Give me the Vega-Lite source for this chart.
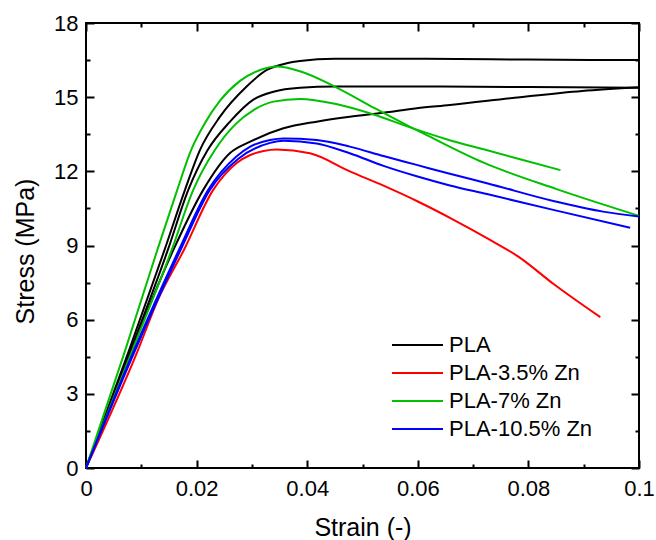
{
  "$schema": "https://vega.github.io/schema/vega-lite/v6.json",
  "width": 553,
  "height": 445,
  "autosize": {"type": "none"},
  "padding": {"left": 86, "top": 23, "right": 17, "bottom": 72},
  "background": "white",
  "config": {
    "font": "Liberation Sans",
    "view": {"stroke": "black", "strokeWidth": 2},
    "axis": {
      "grid": false,
      "domain": false,
      "ticks": false,
      "labelFontSize": 22,
      "labelColor": "black",
      "labelOverlap": false,
      "labelFlush": false,
      "titleFontSize": 25,
      "titleFontWeight": "normal",
      "titleColor": "black",
      "gridColor": "black",
      "gridWidth": 2,
      "gridOpacity": 1
    }
  },
  "datasets": {
    "curves": [
      {"series": "PLA", "sample": "A", "strain": 0, "stress": 0},
      {"series": "PLA", "sample": "A", "strain": 0.0078, "stress": 4.77},
      {"series": "PLA", "sample": "A", "strain": 0.0142, "stress": 8.82},
      {"series": "PLA", "sample": "A", "strain": 0.0179, "stress": 11.25},
      {"series": "PLA", "sample": "A", "strain": 0.0206, "stress": 12.86},
      {"series": "PLA", "sample": "A", "strain": 0.0242, "stress": 14.2},
      {"series": "PLA", "sample": "A", "strain": 0.029, "stress": 15.42},
      {"series": "PLA", "sample": "A", "strain": 0.0327, "stress": 16.1},
      {"series": "PLA", "sample": "A", "strain": 0.0363, "stress": 16.37},
      {"series": "PLA", "sample": "A", "strain": 0.0387, "stress": 16.46},
      {"series": "PLA", "sample": "A", "strain": 0.045, "stress": 16.55},
      {"series": "PLA", "sample": "A", "strain": 0.06, "stress": 16.55},
      {"series": "PLA", "sample": "A", "strain": 0.08, "stress": 16.52},
      {"series": "PLA", "sample": "A", "strain": 0.1, "stress": 16.5},
      {"series": "PLA", "sample": "B", "strain": 0, "stress": 0},
      {"series": "PLA", "sample": "B", "strain": 0.0081, "stress": 4.77},
      {"series": "PLA", "sample": "B", "strain": 0.0148, "stress": 8.82},
      {"series": "PLA", "sample": "B", "strain": 0.0185, "stress": 11.25},
      {"series": "PLA", "sample": "B", "strain": 0.022, "stress": 12.86},
      {"series": "PLA", "sample": "B", "strain": 0.026, "stress": 14.0},
      {"series": "PLA", "sample": "B", "strain": 0.0302, "stress": 14.89},
      {"series": "PLA", "sample": "B", "strain": 0.0339, "stress": 15.22},
      {"series": "PLA", "sample": "B", "strain": 0.0387, "stress": 15.38},
      {"series": "PLA", "sample": "B", "strain": 0.045, "stress": 15.43},
      {"series": "PLA", "sample": "B", "strain": 0.06, "stress": 15.43},
      {"series": "PLA", "sample": "B", "strain": 0.08, "stress": 15.41},
      {"series": "PLA", "sample": "B", "strain": 0.1, "stress": 15.38},
      {"series": "PLA", "sample": "C", "strain": 0, "stress": 0},
      {"series": "PLA", "sample": "C", "strain": 0.0082, "stress": 4.77},
      {"series": "PLA", "sample": "C", "strain": 0.0158, "stress": 8.82},
      {"series": "PLA", "sample": "C", "strain": 0.0212, "stress": 11.25},
      {"series": "PLA", "sample": "C", "strain": 0.026, "stress": 12.73},
      {"series": "PLA", "sample": "C", "strain": 0.0297, "stress": 13.2},
      {"series": "PLA", "sample": "C", "strain": 0.0357, "stress": 13.74},
      {"series": "PLA", "sample": "C", "strain": 0.0417, "stress": 14.01},
      {"series": "PLA", "sample": "C", "strain": 0.0477, "stress": 14.21},
      {"series": "PLA", "sample": "C", "strain": 0.0538, "stress": 14.37},
      {"series": "PLA", "sample": "C", "strain": 0.0598, "stress": 14.55},
      {"series": "PLA", "sample": "C", "strain": 0.0658, "stress": 14.68},
      {"series": "PLA", "sample": "C", "strain": 0.0785, "stress": 15.0},
      {"series": "PLA", "sample": "C", "strain": 0.0897, "stress": 15.25},
      {"series": "PLA", "sample": "C", "strain": 0.1, "stress": 15.4},
      {"series": "PLA-3.5% Zn", "sample": "D", "strain": 0, "stress": 0},
      {"series": "PLA-3.5% Zn", "sample": "D", "strain": 0.0094, "stress": 4.77},
      {"series": "PLA-3.5% Zn", "sample": "D", "strain": 0.013, "stress": 6.8},
      {"series": "PLA-3.5% Zn", "sample": "D", "strain": 0.0177, "stress": 8.82},
      {"series": "PLA-3.5% Zn", "sample": "D", "strain": 0.023, "stress": 11.25},
      {"series": "PLA-3.5% Zn", "sample": "D", "strain": 0.0272, "stress": 12.33},
      {"series": "PLA-3.5% Zn", "sample": "D", "strain": 0.0297, "stress": 12.66},
      {"series": "PLA-3.5% Zn", "sample": "D", "strain": 0.0321, "stress": 12.82},
      {"series": "PLA-3.5% Zn", "sample": "D", "strain": 0.0345, "stress": 12.88},
      {"series": "PLA-3.5% Zn", "sample": "D", "strain": 0.0405, "stress": 12.73},
      {"series": "PLA-3.5% Zn", "sample": "D", "strain": 0.0477, "stress": 12.0},
      {"series": "PLA-3.5% Zn", "sample": "D", "strain": 0.0538, "stress": 11.42},
      {"series": "PLA-3.5% Zn", "sample": "D", "strain": 0.06, "stress": 10.78},
      {"series": "PLA-3.5% Zn", "sample": "D", "strain": 0.0664, "stress": 10.05},
      {"series": "PLA-3.5% Zn", "sample": "D", "strain": 0.0725, "stress": 9.3},
      {"series": "PLA-3.5% Zn", "sample": "D", "strain": 0.0785, "stress": 8.5},
      {"series": "PLA-3.5% Zn", "sample": "D", "strain": 0.0845, "stress": 7.45},
      {"series": "PLA-3.5% Zn", "sample": "D", "strain": 0.093, "stress": 6.1},
      {"series": "PLA-7% Zn", "sample": "E", "strain": 0, "stress": 0},
      {"series": "PLA-7% Zn", "sample": "E", "strain": 0.0071, "stress": 4.77},
      {"series": "PLA-7% Zn", "sample": "E", "strain": 0.0129, "stress": 8.82},
      {"series": "PLA-7% Zn", "sample": "E", "strain": 0.0165, "stress": 11.25},
      {"series": "PLA-7% Zn", "sample": "E", "strain": 0.019, "stress": 12.86},
      {"series": "PLA-7% Zn", "sample": "E", "strain": 0.0215, "stress": 13.95},
      {"series": "PLA-7% Zn", "sample": "E", "strain": 0.0242, "stress": 14.85},
      {"series": "PLA-7% Zn", "sample": "E", "strain": 0.0278, "stress": 15.65},
      {"series": "PLA-7% Zn", "sample": "E", "strain": 0.0315, "stress": 16.1},
      {"series": "PLA-7% Zn", "sample": "E", "strain": 0.0345, "stress": 16.24},
      {"series": "PLA-7% Zn", "sample": "E", "strain": 0.0387, "stress": 16.05},
      {"series": "PLA-7% Zn", "sample": "E", "strain": 0.0454, "stress": 15.38},
      {"series": "PLA-7% Zn", "sample": "E", "strain": 0.052, "stress": 14.58},
      {"series": "PLA-7% Zn", "sample": "E", "strain": 0.0586, "stress": 13.8},
      {"series": "PLA-7% Zn", "sample": "E", "strain": 0.0619, "stress": 13.43},
      {"series": "PLA-7% Zn", "sample": "E", "strain": 0.0719, "stress": 12.35},
      {"series": "PLA-7% Zn", "sample": "E", "strain": 0.0851, "stress": 11.28},
      {"series": "PLA-7% Zn", "sample": "E", "strain": 0.1, "stress": 10.2},
      {"series": "PLA-7% Zn", "sample": "F", "strain": 0, "stress": 0},
      {"series": "PLA-7% Zn", "sample": "F", "strain": 0.0084, "stress": 4.77},
      {"series": "PLA-7% Zn", "sample": "F", "strain": 0.0155, "stress": 8.82},
      {"series": "PLA-7% Zn", "sample": "F", "strain": 0.0194, "stress": 11.25},
      {"series": "PLA-7% Zn", "sample": "F", "strain": 0.0233, "stress": 12.86},
      {"series": "PLA-7% Zn", "sample": "F", "strain": 0.027, "stress": 13.9},
      {"series": "PLA-7% Zn", "sample": "F", "strain": 0.0303, "stress": 14.48},
      {"series": "PLA-7% Zn", "sample": "F", "strain": 0.0339, "stress": 14.82},
      {"series": "PLA-7% Zn", "sample": "F", "strain": 0.0387, "stress": 14.93},
      {"series": "PLA-7% Zn", "sample": "F", "strain": 0.0454, "stress": 14.71},
      {"series": "PLA-7% Zn", "sample": "F", "strain": 0.052, "stress": 14.3},
      {"series": "PLA-7% Zn", "sample": "F", "strain": 0.0586, "stress": 13.78},
      {"series": "PLA-7% Zn", "sample": "F", "strain": 0.0652, "stress": 13.3},
      {"series": "PLA-7% Zn", "sample": "F", "strain": 0.0719, "stress": 12.89},
      {"series": "PLA-7% Zn", "sample": "F", "strain": 0.0785, "stress": 12.49},
      {"series": "PLA-7% Zn", "sample": "F", "strain": 0.0858, "stress": 12.05},
      {"series": "PLA-10.5% Zn", "sample": "G", "strain": 0, "stress": 0},
      {"series": "PLA-10.5% Zn", "sample": "G", "strain": 0.0087, "stress": 4.77},
      {"series": "PLA-10.5% Zn", "sample": "G", "strain": 0.0168, "stress": 8.82},
      {"series": "PLA-10.5% Zn", "sample": "G", "strain": 0.0221, "stress": 11.25},
      {"series": "PLA-10.5% Zn", "sample": "G", "strain": 0.0272, "stress": 12.6},
      {"series": "PLA-10.5% Zn", "sample": "G", "strain": 0.0297, "stress": 13.0},
      {"series": "PLA-10.5% Zn", "sample": "G", "strain": 0.0333, "stress": 13.27},
      {"series": "PLA-10.5% Zn", "sample": "G", "strain": 0.0357, "stress": 13.33},
      {"series": "PLA-10.5% Zn", "sample": "G", "strain": 0.0417, "stress": 13.27},
      {"series": "PLA-10.5% Zn", "sample": "G", "strain": 0.0477, "stress": 13.0},
      {"series": "PLA-10.5% Zn", "sample": "G", "strain": 0.0538, "stress": 12.62},
      {"series": "PLA-10.5% Zn", "sample": "G", "strain": 0.0598, "stress": 12.26},
      {"series": "PLA-10.5% Zn", "sample": "G", "strain": 0.0658, "stress": 11.9},
      {"series": "PLA-10.5% Zn", "sample": "G", "strain": 0.0725, "stress": 11.52},
      {"series": "PLA-10.5% Zn", "sample": "G", "strain": 0.0845, "stress": 10.8},
      {"series": "PLA-10.5% Zn", "sample": "G", "strain": 0.0935, "stress": 10.37},
      {"series": "PLA-10.5% Zn", "sample": "G", "strain": 0.1, "stress": 10.17},
      {"series": "PLA-10.5% Zn", "sample": "H", "strain": 0, "stress": 0},
      {"series": "PLA-10.5% Zn", "sample": "H", "strain": 0.0089, "stress": 4.77},
      {"series": "PLA-10.5% Zn", "sample": "H", "strain": 0.0171, "stress": 8.82},
      {"series": "PLA-10.5% Zn", "sample": "H", "strain": 0.0224, "stress": 11.25},
      {"series": "PLA-10.5% Zn", "sample": "H", "strain": 0.0275, "stress": 12.5},
      {"series": "PLA-10.5% Zn", "sample": "H", "strain": 0.0333, "stress": 13.15},
      {"series": "PLA-10.5% Zn", "sample": "H", "strain": 0.0357, "stress": 13.24},
      {"series": "PLA-10.5% Zn", "sample": "H", "strain": 0.0417, "stress": 13.13},
      {"series": "PLA-10.5% Zn", "sample": "H", "strain": 0.0477, "stress": 12.73},
      {"series": "PLA-10.5% Zn", "sample": "H", "strain": 0.0538, "stress": 12.22},
      {"series": "PLA-10.5% Zn", "sample": "H", "strain": 0.0598, "stress": 11.8},
      {"series": "PLA-10.5% Zn", "sample": "H", "strain": 0.0658, "stress": 11.43},
      {"series": "PLA-10.5% Zn", "sample": "H", "strain": 0.0725, "stress": 11.08},
      {"series": "PLA-10.5% Zn", "sample": "H", "strain": 0.0845, "stress": 10.44},
      {"series": "PLA-10.5% Zn", "sample": "H", "strain": 0.0984, "stress": 9.72}
    ]
  },
  "data": {"name": "curves"},
  "layer": [
    {
      "mark": {"type": "line", "strokeWidth": 2, "interpolate": "monotone"},
      "encoding": {
        "x": {
          "field": "strain", "type": "quantitative",
          "scale": {"domain": [0, 0.1], "nice": false, "zero": false},
          "axis": {
            "orient": "bottom",
            "title": "Strain (-)",
            "values": [0, 0.02, 0.04, 0.06, 0.08, 0.1],
            "labelExpr": "datum.value == 0 ? '0' : format(datum.value, '.2~f')",
            "labelPadding": 10,
            "titleY": 47,
            "titleBaseline": "top",
            "grid": true,
            "gridColor": "black",
            "gridWidth": 2,
            "gridOpacity": 1,
            "gridDash": [8, 429, 8]
          }
        },
        "y": {
          "field": "stress", "type": "quantitative",
          "scale": {"domain": [0, 18], "nice": false},
          "axis": {
            "orient": "left",
            "title": "Stress (MPa)",
            "values": [0, 3, 6, 9, 12, 15, 18],
            "labelPadding": 8,
            "titleAngle": -90,
            "titleBaseline": "middle",
            "titleX": -61,
            "titleY": 228,
            "grid": true,
            "gridColor": "black",
            "gridWidth": 2,
            "gridOpacity": 1,
            "gridDash": [8, 537, 8]
          }
        },
        "color": {
          "field": "series", "type": "nominal",
          "scale": {
            "domain": ["PLA", "PLA-3.5% Zn", "PLA-7% Zn", "PLA-10.5% Zn"],
            "range": ["#000000", "#ff0000", "#00c000", "#0000ff"]
          },
          "legend": {
            "orient": "none",
            "legendX": 300,
            "legendY": 311,
            "title": null,
            "symbolType": "M-1,0H9.2",
            "symbolSize": 100,
            "symbolStrokeWidth": 2,
            "labelFontSize": 22,
            "labelColor": "black",
            "labelOffset": 41,
            "rowPadding": 6,
            "padding": 0
          }
        },
        "detail": {"field": "sample"}
      }
    },
    {
      "mark": {"type": "line", "opacity": 0},
      "encoding": {
        "x": {
          "field": "strain", "type": "quantitative",
          "axis": {
            "orient": "bottom",
            "title": null,
            "labels": false,
            "values": [0.01, 0.03, 0.05, 0.07, 0.09],
            "grid": true,
            "gridColor": "black",
            "gridWidth": 2,
            "gridOpacity": 1,
            "gridDash": [4, 437, 4]
          }
        },
        "y": {
          "field": "stress", "type": "quantitative",
          "axis": {
            "orient": "left",
            "title": null,
            "labels": false,
            "values": [1.5, 4.5, 7.5, 10.5, 13.5, 16.5],
            "grid": true,
            "gridColor": "black",
            "gridWidth": 2,
            "gridOpacity": 1,
            "gridDash": [4, 545, 4]
          }
        },
        "detail": {"field": "sample"}
      }
    }
  ],
  "resolve": {"axis": {"x": "independent", "y": "independent"}}
}
